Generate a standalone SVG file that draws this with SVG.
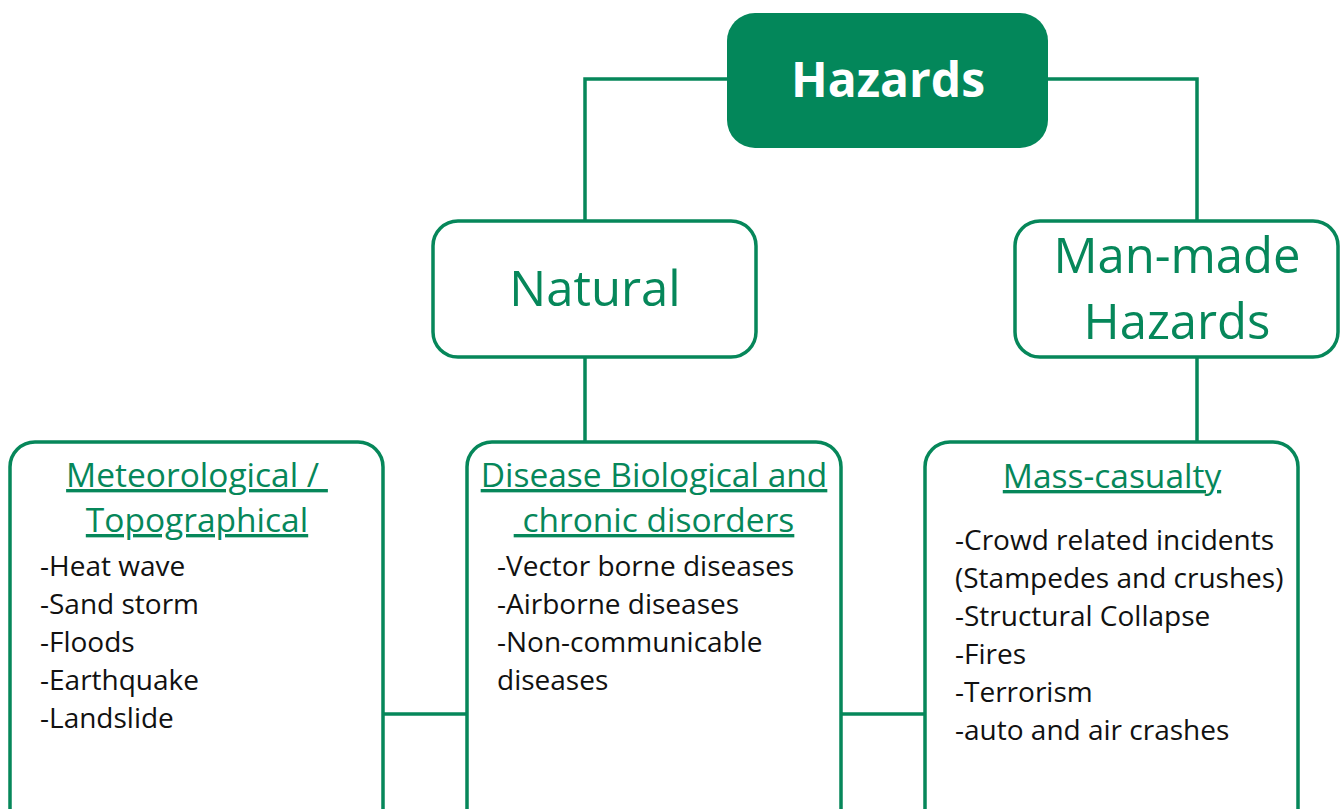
<svg xmlns="http://www.w3.org/2000/svg" width="1343" height="809" viewBox="0 0 1343 809">
<style>
.box{fill:#fff;stroke:#06875a;stroke-width:3.5}
.con{fill:none;stroke:#06875a;stroke-width:3.5}
.t{font-family:"Open Sans","Noto Sans",sans-serif}
.big{font-size:49px;fill:#06875a;text-anchor:middle}
.hd{font-size:33.5px;fill:#06875a;text-anchor:middle;text-decoration:underline}
.li{font-size:28px;fill:#111}
</style>
<rect width="1343" height="809" fill="#fff"/>
<g id="connectors">
<polyline class="con" points="727,79 585,79 585,221"/>
<polyline class="con" points="1048,79 1197,79 1197,221"/>
<line class="con" x1="585" y1="357" x2="585" y2="442"/>
<line class="con" x1="1197" y1="357" x2="1197" y2="442"/>
<line class="con" x1="383" y1="714" x2="467" y2="714"/>
<line class="con" x1="841" y1="714" x2="925" y2="714"/>
</g>
<g id="hazards">
<rect x="727" y="13" width="321" height="135" rx="28" fill="#03875a"/>
<text class="t" x="888" y="97" font-size="48" font-weight="bold" fill="#fff" text-anchor="middle">Hazards</text>
</g>
<g id="natural">
<rect class="box" x="433" y="221" width="323" height="136" rx="25"/>
<text class="t big" x="595" y="306">Natural</text>
</g>
<g id="manmade">
<rect class="box" x="1015" y="221" width="323" height="136" rx="25"/>
<text class="t big" x="1177" y="273">Man-made</text>
<text class="t big" x="1177" y="339">Hazards</text>
</g>
<g id="meteorological">
<rect class="box" x="10" y="442" width="373" height="400" rx="25"/>
<text class="t hd" x="197" y="487" xml:space="preserve">Meteorological / </text>
<text class="t hd" x="197" y="532">Topographical</text>
<text class="t li" x="40" y="576">-Heat wave</text>
<text class="t li" x="40" y="614">-Sand storm</text>
<text class="t li" x="40" y="652">-Floods</text>
<text class="t li" x="40" y="690">-Earthquake</text>
<text class="t li" x="40" y="728">-Landslide</text>
</g>
<g id="disease">
<rect class="box" x="467" y="442" width="374" height="400" rx="25"/>
<text class="t hd" x="654" y="487">Disease Biological and</text>
<text class="t hd" x="654" y="532" xml:space="preserve"> chronic disorders</text>
<text class="t li" x="497" y="576">-Vector borne diseases</text>
<text class="t li" x="497" y="614">-Airborne diseases</text>
<text class="t li" x="497" y="652">-Non-communicable</text>
<text class="t li" x="497" y="690">diseases</text>
</g>
<g id="masscasualty">
<rect class="box" x="925" y="442" width="373" height="400" rx="25"/>
<text class="t hd" x="1112" y="488">Mass-casualty</text>
<text class="t li" x="955" y="550">-Crowd related incidents</text>
<text class="t li" x="955" y="588">(Stampedes and crushes)</text>
<text class="t li" x="955" y="626">-Structural Collapse</text>
<text class="t li" x="955" y="664">-Fires</text>
<text class="t li" x="955" y="702">-Terrorism</text>
<text class="t li" x="955" y="740">-auto and air crashes</text>
</g>
</svg>
